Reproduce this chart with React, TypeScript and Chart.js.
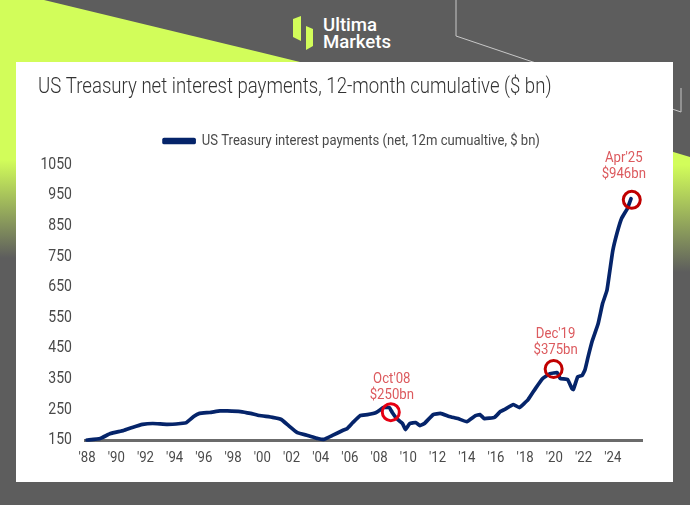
import React, { useEffect, useRef } from "react";
import { Chart, registerables } from "chart.js";

Chart.register(...registerables);

const TITLE = "US Treasury net interest payments, 12-month cumulative ($ bn)";
const SERIES_NAME = "US Treasury interest payments (net, 12m cumualtive, $ bn)";

const years = [
  1988.0, 1988.9, 1989.6, 1990.5, 1991.1, 1991.8, 1992.5, 1993.5, 1994.4, 1994.8, 1995.3, 1995.7,
  1996.4, 1997.1, 1997.6, 1998.5, 1999.2, 1999.8, 2000.7, 2001.3, 2001.8, 2002.4, 2003.1, 2003.8,
  2004.2, 2004.8, 2005.5, 2005.8, 2006.2, 2006.7, 2007.2, 2007.8, 2008.3, 2008.7, 2008.9, 2009.2,
  2009.6, 2009.8, 2010.1, 2010.5, 2010.8, 2011.1, 2011.7, 2012.2, 2012.8, 2013.4, 2014.0, 2014.6,
  2014.9, 2015.2, 2015.9, 2016.3, 2016.6, 2017.2, 2017.6, 2018.2, 2018.7, 2019.2, 2019.7, 2020.2,
  2020.4, 2020.9, 2021.2, 2021.3, 2021.6, 2021.9, 2022.1, 2022.3, 2022.6, 2023.0, 2023.3, 2023.6,
  2023.8, 2024.0, 2024.3, 2024.6, 2025.0, 2025.25,
];
const payments = [
  150, 155, 171, 181, 191, 201, 204, 201, 204, 207, 227, 237,
  240, 245, 245, 243, 237, 230, 224, 217, 197, 174, 165, 155,
  152, 165, 181, 187, 207, 230, 233, 240, 256, 256, 240, 220,
  204, 184, 204, 207, 197, 204, 233, 237, 227, 220, 210, 230,
  233, 220, 224, 243, 250, 266, 256, 282, 318, 351, 367, 370,
  351, 348, 318, 315, 357, 361, 380, 420, 475, 531, 596, 639,
  704, 769, 828, 874, 907, 939,
];

const markerYears = [2008.8, 2019.95, 2025.3];
const markerValues = [241, 382, 935];
const markerTitles = ["Oct'08", "Dec'19", "Apr'25"];
const markerAmounts = ["$250bn", "$375bn", "$946bn"];

const xTickYears = [1988, 1990, 1992, 1994, 1996, 1998, 2000, 2002, 2004, 2006, 2008, 2010, 2012, 2014, 2016, 2018, 2020, 2022, 2024];
const xTickLabels = ["'88", "'90", "'92", "'94", "'96", "'98", "'00", "'02", "'04", "'06", "'08", "'10", "'12", "'14", "'16", "'18", "'20", "'22", "'24"];

const FONT = '"Roboto", sans-serif';
const NARROW = 0.85;
const NAVY = "#05246a";
const TEXT = "#4a4a4a";
const LABEL_RED = "#dc5a5e";

const calloutOffsets = [
  { dx: 1, dy: -33 },
  { dx: 2, dy: -35 },
  { dx: -8, dy: -42 },
];

// The reference uses a narrow typeface that is not installed: condense the text horizontally.
function condenseText(ctx: any) {
  const fill = ctx.fillText.bind(ctx);
  const measure = ctx.measureText.bind(ctx);
  ctx.fillText = (text: string, x: number, y: number) => {
    ctx.save();
    ctx.translate(x, y);
    ctx.scale(NARROW, 1);
    fill(text, 0, 0);
    ctx.restore();
  };
  ctx.measureText = (text: string) => ({ width: measure(text).width * NARROW });
}

const calloutPlugin = {
  id: "callouts",
  afterLayout(chart: any) {
    chart.legend.left += 12;
    chart.legend.right += 12;
    chart.legend.top -= 6;
  },
  afterDatasetsDraw(chart: any) {
    const { ctx, scales } = chart;
    ctx.save();
    ctx.fillStyle = LABEL_RED;
    ctx.font = `15.5px ${FONT}`;
    ctx.textAlign = "center";
    ctx.textBaseline = "middle";
    markerYears.forEach((yr, i) => {
      const px = scales.x.getPixelForValue(yr) + calloutOffsets[i].dx;
      const py = scales.y.getPixelForValue(markerValues[i]) + calloutOffsets[i].dy;
      ctx.fillText(markerTitles[i], px, py);
      ctx.fillText(markerAmounts[i], px, py + 16);
    });
    ctx.restore();
  },
};

function Backdrop() {
  return (
    <svg width={690} height={505} style={{ position: "absolute", left: 0, top: 0 }}>
      <defs>
        <linearGradient id="limeL" x1="0" y1="160" x2="0" y2="258" gradientUnits="userSpaceOnUse">
          <stop offset="0" stopColor="#d2fd5a" />
          <stop offset="1" stopColor="#5d5d5d" />
        </linearGradient>
        <linearGradient id="limeR" x1="0" y1="165" x2="0" y2="272" gradientUnits="userSpaceOnUse">
          <stop offset="0" stopColor="#d2fd5a" />
          <stop offset="1" stopColor="#5d5d5d" />
        </linearGradient>
      </defs>
      <rect x={0} y={0} width={690} height={505} fill="#5d5d5d" />
      <polygon points="0,0 44,0 300,62 300,280 0,280" fill="url(#limeL)" />
      <polygon points="660,148 690,157 690,280 660,280" fill="url(#limeR)" />
      <polyline points="456,0 456,36 681,112 681,88" fill="none" stroke="#c8c8c8" strokeWidth={1} />
      <rect x={16} y={62} width={657} height={420} fill="#ffffff" />
      <polygon points="293,19 301,16 301,41 293,37" fill="#d2fd5a" />
      <polygon points="306,26 313,29 313,46 306,50" fill="#d2fd5a" />
      <text x={323} y={31} fill="#ffffff" fontFamily="Roboto, sans-serif" fontWeight={500} fontSize={18.6}>Ultima</text>
      <text x={323} y={48} fill="#ffffff" fontFamily="Roboto, sans-serif" fontWeight={500} fontSize={18.6}>Markets</text>
    </svg>
  );
}

export default function App() {
  const ref = useRef<HTMLCanvasElement>(null);

  useEffect(() => {
    const canvas = ref.current as HTMLCanvasElement;
    condenseText(canvas.getContext("2d"));
    const chart = new Chart(canvas, {
      type: "line",
      data: {
        datasets: [
          {
            label: SERIES_NAME,
            data: years.map((y, i) => ({ x: y, y: payments[i] })),
            borderColor: NAVY,
            backgroundColor: NAVY,
            borderWidth: 3.7,
            borderJoinStyle: "round",
            borderCapStyle: "round",
            pointRadius: 0,
            tension: 0.1,
            clip: false,
            order: 1,
          },
          {
            label: "Markers",
            data: markerYears.map((y, i) => ({ x: y, y: markerValues[i] })),
            showLine: false,
            pointRadius: 8.5,
            pointBackgroundColor: "rgba(0,0,0,0)",
            pointBorderColor: ["#e60012", "#c00000", "#c00000"],
            pointBorderWidth: 3,
            order: 0,
          },
        ],
      },
      options: {
        animation: false,
        responsive: false,
        layout: { padding: { top: 74, left: 38, right: 48, bottom: 35 } },
        plugins: {
          tooltip: { enabled: false },
          title: {
            display: true,
            text: TITLE,
            align: "start",
            color: "#333333",
            font: { family: FONT, size: 21.9, weight: "300" },
            padding: { top: 0, bottom: 11.5 },
          },
          legend: {
            display: true,
            labels: {
              boxWidth: 30,
              boxHeight: 3,
              padding: 27.5,
              color: TEXT,
              font: { family: FONT, size: 15.4 },
              filter: (item: any) => item.datasetIndex === 0,
            },
          },
        },
        scales: {
          x: {
            type: "linear",
            min: 1987.86,
            max: 2026,
            grid: { display: false, drawTicks: false },
            border: { display: true, color: "#6b6b6b", width: 3 },
            afterFit: (s: any) => { s.height = 30; },
            afterBuildTicks: (s: any) => { s.ticks = xTickYears.map((v) => ({ value: v })); },
            ticks: {
              autoSkip: false,
              maxRotation: 0,
              padding: 9,
              color: TEXT,
              font: { family: FONT, size: 15.5 },
              callback: (v: any) => xTickLabels[xTickYears.indexOf(Number(v))],
            },
          },
          y: {
            type: "linear",
            min: 150,
            max: 1050,
            grid: { display: false, drawTicks: false },
            border: { display: false },
            afterFit: (s: any) => { s.width = 47; },
            ticks: {
              stepSize: 100,
              padding: 13,
              color: TEXT,
              font: { family: FONT, size: 16.5 },
              callback: (v: any) => String(v),
            },
          },
        },
      },
      plugins: [calloutPlugin],
    } as any);
    return () => chart.destroy();
  }, []);

  return (
    <div style={{ position: "fixed", left: 0, top: 0, width: 690, height: 505, overflow: "hidden" }}>
      <Backdrop />
      <canvas ref={ref} width={690} height={505} style={{ position: "absolute", left: 0, top: 0 }} />
    </div>
  );
}
